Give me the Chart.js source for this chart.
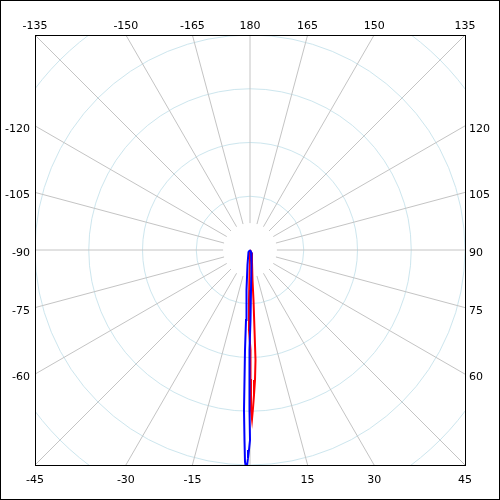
<!DOCTYPE html>
<html><head><meta charset="utf-8">
<script src="https://cdn.jsdelivr.net/npm/chart.js@4/dist/chart.umd.min.js"></script>
<style>html,body{margin:0;padding:0;background:#fff}#wrap{width:500px;height:500px}</style>
</head><body><div id="wrap"><canvas id="c" width="500" height="500"></canvas></div>
<script>
// Angle ticks (degrees; 0 = down, 90 = right, 180 = up)
const ANGLE_TICKS = [-165,-150,-135,-120,-105,-90,-75,-60,-45,-30,-15,0,15,30,45,60,75,90,105,120,135,150,165,180];
const ANGLE_LABELS = ['-165','-150','-135','-120','-105','-90','-75','-60','-45','-30','-15','','15','30','45','60','75','90','105','120','135','150','165','180'];
const RING_RADII = [1,2,3,4,5];
const RADIAL_START = 0.5;
const R_MAX = 4;

// Blue series (polar: angle deg, radius)
const BLUE_ANGLE = [0, 26.6, 5.7, 1.43, 0.41, -0.29, -0.22, -0.18, 0, -0.29, -0.55, -0.91, -1.35, -1.66, -2.15, -2.42, -2.86, -3.27, -5.0, -9.5, -36.9, 0];
const BLUE_R     = [0, 0.042, 0.28, 0.744, 1.302, 1.860, 2.419, 2.977, 3.535, 3.721, 3.870, 4.094, 3.945, 3.536, 2.979, 2.421, 1.863, 1.304, 0.747, 0.283, 0.047, 0];

// Red series (polar: angle deg, radius)
const RED_ANGLE = [0, 26.6, 9.46, 4.76, 4.0, 3.22, 2.86, 2.20, 1.58, 1.09, 0.68, 0.36, 0.44, 0.29, -0.72, -1.15, -1.15, 0, 0];
const RED_R     = [0, 0.062, 0.226, 0.560, 0.932, 1.491, 2.049, 2.420, 2.699, 2.940, 3.145, 2.977, 2.419, 1.861, 1.489, 0.93, 0.465, 0.149, 0];

function toXY(angles, radii){
  return angles.map((a,i)=>{
    const t = a*Math.PI/180;
    return {x: radii[i]*Math.sin(t), y: -radii[i]*Math.cos(t)};
  });
}

const polarGrid = {
  id:'polarGrid',
  beforeDraw(chart){
    const ctx = chart.ctx;
    ctx.save(); ctx.fillStyle='#fff'; ctx.fillRect(0,0,chart.width,chart.height); ctx.restore();
  },
  beforeDatasetsDraw(chart){
    const ctx = chart.ctx, a = chart.chartArea;
    const xs = chart.scales.x, ys = chart.scales.y;
    const cx = xs.getPixelForValue(0), cy = ys.getPixelForValue(0);
    const unit = xs.getPixelForValue(1) - cx;
    ctx.save();
    ctx.beginPath(); ctx.rect(a.left, a.top, a.right-a.left, a.bottom-a.top); ctx.clip();
    ctx.lineWidth = 1;
    ctx.strokeStyle = '#cde6ee';
    RING_RADII.forEach(r=>{
      ctx.beginPath(); ctx.arc(cx, cy, r*unit, 0, Math.PI*2); ctx.stroke();
    });
    ctx.strokeStyle = '#c4c4c4';
    ANGLE_TICKS.forEach(d=>{
      const t = d*Math.PI/180, s = Math.sin(t), c = -Math.cos(t);
      ctx.beginPath();
      ctx.moveTo(xs.getPixelForValue(RADIAL_START*s), ys.getPixelForValue(RADIAL_START*c));
      ctx.lineTo(xs.getPixelForValue(8*s), ys.getPixelForValue(8*c));
      ctx.stroke();
    });
    ctx.restore();
  },
  afterDraw(chart){
    const ctx = chart.ctx, a = chart.chartArea;
    const xs = chart.scales.x, ys = chart.scales.y;
    ctx.save();
    ctx.strokeStyle = '#000'; ctx.lineWidth = 1;
    ctx.strokeRect(a.left+0.5, a.top+0.5, a.right-a.left, a.bottom-a.top);
    ctx.strokeRect(0.5, 0.5, chart.width-1, chart.height-1);
    ctx.fillStyle = '#000';
    ctx.font = '11px "DejaVu Sans"';
    ctx.textBaseline = 'alphabetic';
    ANGLE_TICKS.forEach((d,i)=>{
      const lab = ANGLE_LABELS[i];
      if(!lab) return;
      const t = d*Math.PI/180, s = Math.sin(t), c = -Math.cos(t);
      const k = R_MAX / Math.max(Math.abs(s), Math.abs(c));
      const X = xs.getPixelForValue(s*k), Y = ys.getPixelForValue(c*k);
      if (Math.abs(c) >= Math.abs(s) - 1e-9) {
        ctx.textAlign = 'center';
        if (c > 0) ctx.fillText(lab, X, a.top - 6);
        else ctx.fillText(lab, X, a.bottom + 18);
      } else if (s < 0) {
        ctx.textAlign = 'right';
        ctx.fillText(lab, a.left - 5, Y + 6);
      } else {
        ctx.textAlign = 'left';
        ctx.fillText(lab, a.right + 4, Y + 6);
      }
    });
    ctx.restore();
  }
};

new Chart(document.getElementById('c'), {
  type: 'scatter',
  data: {
    datasets: [
      {label:'Blue', data: toXY(BLUE_ANGLE, BLUE_R), showLine:true, borderColor:'#0000ff', backgroundColor:'#0000ff', borderWidth:2, pointRadius:0, tension:0, fill:false},
      {label:'Red', data: toXY(RED_ANGLE, RED_R), showLine:true, borderColor:'#ff0000', backgroundColor:'#ff0000', borderWidth:2, pointRadius:0, tension:0, fill:false}
    ]
  },
  options: {
    responsive:false, animation:false, devicePixelRatio:1,
    layout:{padding:35},
    plugins:{legend:{display:false}, tooltip:{enabled:false}},
    scales:{
      x:{type:'linear', min:-R_MAX, max:R_MAX, display:false},
      y:{type:'linear', min:-R_MAX, max:R_MAX, display:false}
    }
  },
  plugins:[polarGrid]
});
</script></body></html>
